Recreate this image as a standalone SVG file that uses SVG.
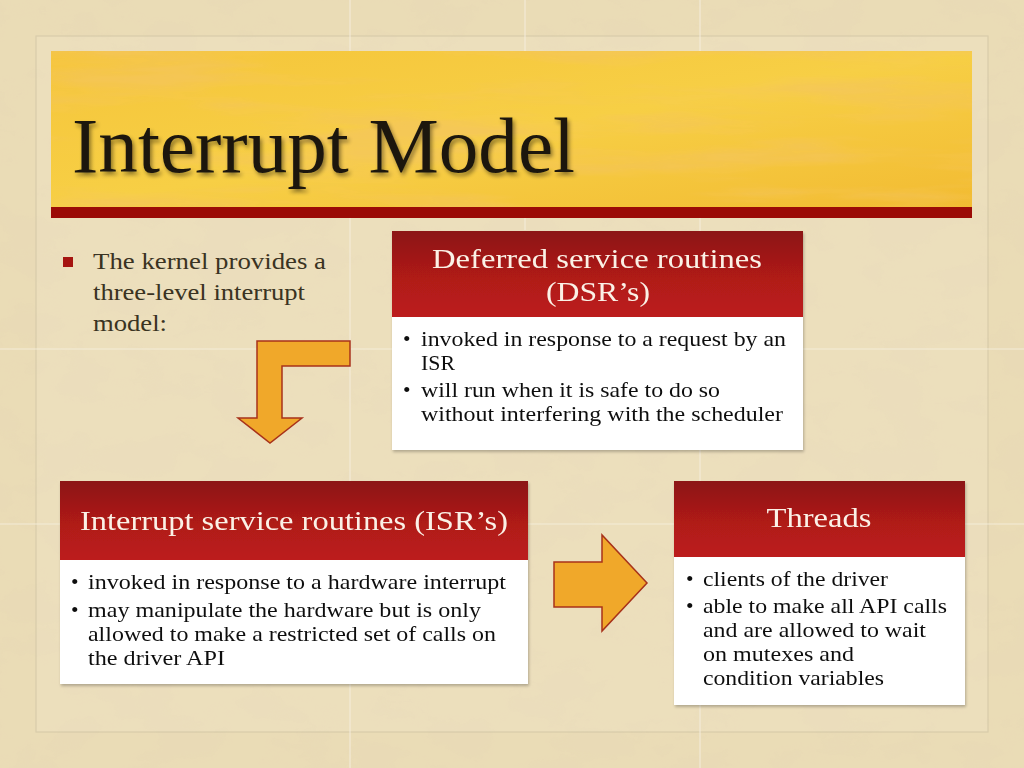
<svg xmlns="http://www.w3.org/2000/svg" width="1024" height="768" viewBox="0 0 1024 768">
  <defs>
    <filter id="paper" x="0" y="0" width="100%" height="100%">
      <feTurbulence type="fractalNoise" baseFrequency="0.015 0.025" numOctaves="5" seed="3" result="n"/>
      <feColorMatrix in="n" type="matrix" values="0 0 0 0 0.80  0 0 0 0 0.68  0 0 0 0 0.47  0 0 0 -2.0 1.25"/>
    </filter>
    <filter id="gold" x="0" y="0" width="100%" height="100%">
      <feTurbulence type="fractalNoise" baseFrequency="0.004 0.035" numOctaves="4" seed="11" result="n"/>
      <feColorMatrix in="n" type="matrix" values="0 0 0 0 0.91  0 0 0 0 0.56  0 0 0 0 0.12  0 0 0 -3.0 1.7"/>
    </filter>
    <filter id="shadow" x="-10%" y="-10%" width="120%" height="130%">
      <feGaussianBlur in="SourceAlpha" stdDeviation="2"/>
      <feOffset dx="2" dy="3" result="b"/>
      <feComponentTransfer><feFuncA type="linear" slope="0.45"/></feComponentTransfer>
      <feMerge><feMergeNode/><feMergeNode in="SourceGraphic"/></feMerge>
    </filter>
    <filter id="boxshadow" x="-5%" y="-5%" width="110%" height="115%">
      <feGaussianBlur in="SourceAlpha" stdDeviation="1.5"/>
      <feOffset dx="1" dy="2"/>
      <feComponentTransfer><feFuncA type="linear" slope="0.25"/></feComponentTransfer>
      <feMerge><feMergeNode/><feMergeNode in="SourceGraphic"/></feMerge>
    </filter>
    <linearGradient id="hdr" x1="0" y1="0" x2="0" y2="1">
      <stop offset="0" stop-color="#8c1715"/>
      <stop offset="0.55" stop-color="#b01a19"/>
      <stop offset="1" stop-color="#bc1c1b"/>
    </linearGradient>
    <linearGradient id="banner" x1="0" y1="0" x2="1" y2="1">
      <stop offset="0" stop-color="#f5c53a"/>
      <stop offset="0.5" stop-color="#f7cf45"/>
      <stop offset="1" stop-color="#f2bb32"/>
    </linearGradient>
    <style>
      .grid { stroke: #f6efe0; stroke-width: 1.2; opacity: 0.8; }
      .hdrtxt { font-family: "Liberation Serif", serif; font-size: 28px; fill: #fbf1e6; text-anchor: middle; }
      .body { font-family: "Liberation Serif", serif; font-size: 21.5px; fill: #111111; }
      .intro { font-family: "Liberation Serif", serif; font-size: 24px; fill: #3a3322; }
      .arrow { fill: #f0a82a; stroke: #a8321a; stroke-width: 1.5; stroke-linejoin: miter; }
      .boxbody { fill: #ffffff; }
    </style>
  </defs>

  <!-- background -->
  <rect x="0" y="0" width="1024" height="768" fill="#eadcb6"/>
  <rect x="0" y="0" width="1024" height="768" filter="url(#paper)" opacity="0.5"/>
  <rect x="36" y="36" width="952" height="696" fill="#f3e9cf" opacity="0.25" stroke="#a79f88" stroke-width="1.2"/>
  <g id="gridlines">
    <line class="grid" x1="350" y1="0" x2="350" y2="768"/>
    <line class="grid" x1="525" y1="0" x2="525" y2="230"/>
    <line class="grid" x1="700" y1="0" x2="700" y2="768"/>
    <line class="grid" x1="0" y1="349" x2="1024" y2="349"/>
    <line class="grid" x1="0" y1="524" x2="1024" y2="524"/>
  </g>

  <!-- title banner -->
  <g id="title">
    <rect x="51" y="51" width="921" height="157" fill="url(#banner)"/>
    <rect x="51" y="51" width="921" height="157" filter="url(#gold)" opacity="0.65"/>
    <rect x="51" y="207" width="921" height="11" fill="#9b0b06"/>
    <text x="72" y="172" font-family="Liberation Serif, serif" font-size="79" fill="#1c1810" filter="url(#shadow)" textLength="503" lengthAdjust="spacingAndGlyphs">Interrupt Model</text>
  </g>

  <!-- intro text -->
  <g id="intro">
    <rect x="63" y="257" width="10" height="10" fill="#a51410"/>
    <text class="intro" x="93" y="269" textLength="233" lengthAdjust="spacingAndGlyphs">The kernel provides a</text>
    <text class="intro" x="93" y="300" textLength="212" lengthAdjust="spacingAndGlyphs">three-level interrupt</text>
    <text class="intro" x="93" y="331" textLength="74" lengthAdjust="spacingAndGlyphs">model:</text>
  </g>

  <!-- DSR node -->
  <g id="dsr" filter="url(#boxshadow)">
    <rect class="boxbody" x="392" y="317" width="411" height="133"/>
    <rect x="392" y="231" width="411" height="86" fill="url(#hdr)"/>
    <text class="hdrtxt" x="597" y="268" textLength="330" lengthAdjust="spacingAndGlyphs">Deferred service routines</text>
    <text class="hdrtxt" x="598" y="301" textLength="104" lengthAdjust="spacingAndGlyphs">(DSR’s)</text>
    <text class="body" x="403" y="346">•</text>
    <text class="body" x="421" y="346" textLength="365" lengthAdjust="spacingAndGlyphs">invoked in response to a request by an</text>
    <text class="body" x="421" y="370" textLength="34" lengthAdjust="spacingAndGlyphs">ISR</text>
    <text class="body" x="403" y="397">•</text>
    <text class="body" x="421" y="397" textLength="299" lengthAdjust="spacingAndGlyphs">will run when it is safe to do so</text>
    <text class="body" x="421" y="421" textLength="362" lengthAdjust="spacingAndGlyphs">without interfering with the scheduler</text>
  </g>

  <!-- ISR node -->
  <g id="isr" filter="url(#boxshadow)">
    <rect class="boxbody" x="60" y="560" width="468" height="124"/>
    <rect x="60" y="481" width="468" height="79" fill="url(#hdr)"/>
    <text class="hdrtxt" x="294" y="530" textLength="428" lengthAdjust="spacingAndGlyphs">Interrupt service routines (ISR’s)</text>
    <text class="body" x="71" y="589">•</text>
    <text class="body" x="88" y="589" textLength="418" lengthAdjust="spacingAndGlyphs">invoked in response to a hardware interrupt</text>
    <text class="body" x="71" y="617">•</text>
    <text class="body" x="88" y="617" textLength="393" lengthAdjust="spacingAndGlyphs">may manipulate the hardware but is only</text>
    <text class="body" x="88" y="641" textLength="408" lengthAdjust="spacingAndGlyphs">allowed to make a restricted set of calls on</text>
    <text class="body" x="88" y="665" textLength="137" lengthAdjust="spacingAndGlyphs">the driver API</text>
  </g>

  <!-- Threads node -->
  <g id="threads" filter="url(#boxshadow)">
    <rect class="boxbody" x="674" y="557" width="291" height="148"/>
    <rect x="674" y="481" width="291" height="76" fill="url(#hdr)"/>
    <text class="hdrtxt" x="819" y="527" textLength="105" lengthAdjust="spacingAndGlyphs">Threads</text>
    <text class="body" x="686" y="586">•</text>
    <text class="body" x="703" y="586" textLength="185" lengthAdjust="spacingAndGlyphs">clients of the driver</text>
    <text class="body" x="686" y="613">•</text>
    <text class="body" x="703" y="613" textLength="244" lengthAdjust="spacingAndGlyphs">able to make all API calls</text>
    <text class="body" x="703" y="637" textLength="223" lengthAdjust="spacingAndGlyphs">and are allowed to wait</text>
    <text class="body" x="703" y="661" textLength="151" lengthAdjust="spacingAndGlyphs">on mutexes and</text>
    <text class="body" x="703" y="685" textLength="181" lengthAdjust="spacingAndGlyphs">condition variables</text>
  </g>

  <!-- connectors -->
  <g id="connectors">
    <path class="arrow" d="M350,341 L257,341 L257,418 L238,418 L270,443 L302,418 L282,418 L282,366 L350,366 Z"/>
    <path class="arrow" d="M554,562 L602,562 L602,535 L647,583 L602,631 L602,607 L554,607 Z"/>
  </g>
</svg>
